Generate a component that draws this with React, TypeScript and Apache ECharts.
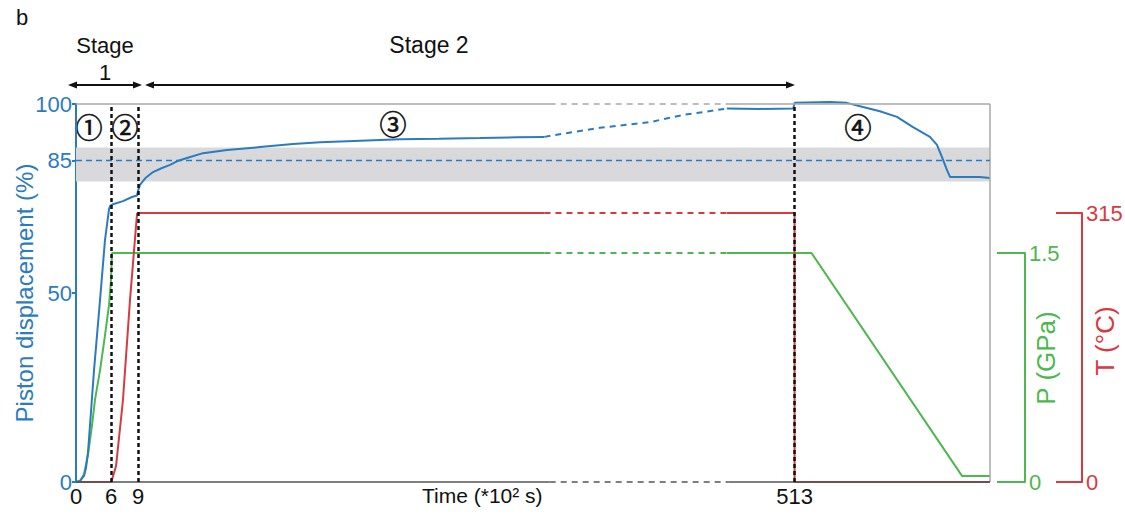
import { useEffect, useRef } from "react";
import * as echarts from "echarts";

// ---- axis mapping: time (×10² s) knots -> display position on the (broken) time axis
const TIME_KNOTS = [0, 6, 9, 663];
const AXIS_KNOTS = [0, 35, 62, 914];
const X_TICKS = [0, 6, 9, 513];
const Y_TICKS = [0, 50, 85, 100];
const STAGE_MARKS = [6, 9, 513];
const BREAK_START = 321;
const BREAK_END = 461;
const FRAME_BREAK = [325, 462];
const END_TIME = 663;
const BAND = [79.5, 88.5];
const TARGET = 85;

// ---- piston displacement (%)
const pistonT = [0, 0.69, 1.37, 1.71, 2.06, 2.4, 3.09, 4.11, 4.97, 5.66, 5.83, 6.22, 7.33, 8.33, 8.89, 9, 10.5, 15, 20.5, 27, 33.6, 40, 46.6, 58.9, 77.3, 102.6, 128, 148.7, 180, 210, 240, 271.5, 300, 321,
  329, 363.6, 402, 427.3, 453.4, 461,
  486, 512, 513, 540, 553, 565.5, 578.5, 591.6, 603.9, 616.9, 622.3, 627, 630, 632.3, 655, 663];
const pistonV = [0, 0.3, 1.6, 3.7, 7.9, 15, 29.6, 48, 64, 72.2, 73.0, 73.5, 74.3, 75.4, 75.8, 77, 78.6, 80.5, 82, 83, 83.9, 85, 85.7, 87, 87.8, 88.6, 89.4, 89.9, 90.3, 90.7, 90.8, 91, 91.2, 91.3,
  91.8, 93.7, 95.2, 97.1, 98.4, 98.8,
  98.7, 98.8, 100.3, 100.5, 100.3, 99.2, 98.1, 96.6, 93.9, 91.3, 89.2, 85.2, 82.5, 80.7, 80.7, 80.4];

// ---- pressure (GPa)
const pressureT = [0, 0.69, 1.37, 2.06, 2.74, 3.26, 4.11, 4.97, 5.66, 6.0, 6.11, 100, 321, 461, 526, 641.5, 663];
const pressureV = [0, 0.007, 0.05, 0.18, 0.37, 0.54, 0.73, 0.96, 1.16, 1.32, 1.5, 1.5, 1.5, 1.5, 1.5, 0.04, 0.04];

// ---- temperature (°C)
const tempT = [0, 6, 6.1, 6.56, 7.33, 8.11, 8.89, 9, 100, 321, 461, 513, 513, 663];
const tempV = [0, 0, 2.3, 18.7, 96, 213, 313.8, 315, 315, 315, 315, 315, 0, 0];

const BLUE = "#2b7bc0";
const GREEN = "#4cb84f";
const RED = "#d83a3f";
const FONT = "Liberation Sans, Arial, sans-serif";
const CIRCLED = "Noto Sans CJK JP, DejaVu Sans, sans-serif";

function toX(t: number): number {
  for (let i = 0; i < TIME_KNOTS.length - 1; i++) {
    const a = TIME_KNOTS[i], b = TIME_KNOTS[i + 1];
    if (t <= b || i === TIME_KNOTS.length - 2) {
      return AXIS_KNOTS[i] + ((t - a) / (b - a)) * (AXIS_KNOTS[i + 1] - AXIS_KNOTS[i]);
    }
  }
  return 0;
}

function pick(ts: number[], vs: number[], a: number, b: number) {
  const out: number[][] = [];
  ts.forEach((t, i) => {
    if (t >= a && t <= b) out.push([toX(t), vs[i]]);
  });
  return out;
}

function segs(name: string, ts: number[], vs: number[], color: string, idx: number, z: number) {
  const base = {
    type: "line" as const,
    name,
    xAxisIndex: idx,
    yAxisIndex: idx,
    showSymbol: false,
    symbol: "none",
    clip: false,
    silent: true,
    z,
  };
  return [
    { ...base, data: pick(ts, vs, -1, BREAK_START), lineStyle: { color, width: 2 } },
    { ...base, data: pick(ts, vs, BREAK_START, BREAK_END), lineStyle: { color, width: 2, type: [6, 5] } },
    { ...base, data: pick(ts, vs, BREAK_END, 1e9), lineStyle: { color, width: 2 } },
  ];
}

function seg(x1: number, y1: number, x2: number, y2: number, style: any) {
  return [
    { coord: [toX(x1), y1], lineStyle: style },
    { coord: [toX(x2), y2] },
  ];
}

function arrow(x1: number, x2: number, y: number) {
  const h = 9, w = 3.6;
  return [
    { type: "line", shape: { x1: x1 + h - 1, y1: y, x2: x2 - h + 1, y2: y }, style: { stroke: "#111", lineWidth: 2 } },
    { type: "polygon", shape: { points: [[x1, y], [x1 + h, y - w], [x1 + h, y + w]] }, style: { fill: "#111" } },
    { type: "polygon", shape: { points: [[x2, y], [x2 - h, y - w], [x2 - h, y + w]] }, style: { fill: "#111" } },
  ];
}

function circled(text: string, x: number, y: number) {
  return {
    type: "text", x, y,
    style: { text, fontSize: 27, fontFamily: CIRCLED, fill: "#111", stroke: "#111", lineWidth: 0.6, align: "center", verticalAlign: "middle" },
  };
}

export default function App() {
  const ref = useRef<HTMLDivElement>(null);
  useEffect(() => {
    document.body.style.margin = "0";
    const chart = echarts.init(ref.current!, undefined, { renderer: "svg" });
    const xMax = toX(END_TIME);
    const grids = [
      { left: 76, right: 135, top: 104, bottom: 35, outerBoundsMode: "none", containLabel: false },
      { left: 76, right: 135, top: 253, bottom: 35, outerBoundsMode: "none", containLabel: false },
      { left: 76, right: 135, top: 213, bottom: 35, outerBoundsMode: "none", containLabel: false },
    ];
    const xAxes = grids.map((_, i) => ({
      type: "value",
      gridIndex: i,
      min: 0,
      max: xMax,
      show: i === 0,
      axisLine: { show: false },
      axisTick: { show: false },
      splitLine: { show: false },
      axisLabel: {
        show: i === 0,
        customValues: X_TICKS.map(toX),
        formatter: (v: number) => {
          const k = X_TICKS.findIndex((t) => Math.abs(toX(t) - v) < 0.01);
          return k >= 0 ? String(X_TICKS[k]) : "";
        },
        color: "#111",
        fontSize: 22,
        fontFamily: FONT,
        margin: 3,
      },
    }));
    const grayFrame = { color: "#a8a8a8", width: 1.5, type: "solid" };
    const grayDash = { color: "#a8a8a8", width: 1.5, type: [6, 5] };
    const axisSolid = { color: "#555", width: 1.5, type: "solid" };
    const axisDash = { color: "#555", width: 1.5, type: [6, 5] };

    const option: any = {
      animation: false,
      grid: grids,
      xAxis: xAxes,
      yAxis: [
        {
          type: "value", gridIndex: 0, min: 0, max: 100, position: "left",
          name: "Piston displacement (%)", nameLocation: "middle", nameGap: 40, nameRotate: 90,
          nameMoveOverlap: false,
          nameTextStyle: { color: BLUE, fontSize: 24, fontFamily: FONT },
          axisLine: { show: true, lineStyle: { color: BLUE, width: 2 } },
          axisTick: { show: true, customValues: Y_TICKS, length: 4, lineStyle: { color: BLUE, width: 2 } },
          axisLabel: { customValues: Y_TICKS, color: BLUE, fontSize: 22, fontFamily: FONT, margin: 4 },
          splitLine: { show: false },
        },
        {
          type: "value", gridIndex: 1, min: 0, max: 1.5, interval: 1.5, position: "right", offset: 35,
          axisLine: { show: true, onZero: false, lineStyle: { color: GREEN, width: 2 } },
          axisTick: { show: true, inside: true, length: 28, lineStyle: { color: GREEN, width: 2 } },
          axisLabel: { color: GREEN, fontSize: 22, fontFamily: FONT, margin: 4 },
          splitLine: { show: false },
        },
        {
          type: "value", gridIndex: 2, min: 0, max: 315, interval: 315, position: "right", offset: 92,
          axisLine: { show: true, onZero: false, lineStyle: { color: RED, width: 2 } },
          axisTick: { show: true, inside: true, length: 26, lineStyle: { color: RED, width: 2 } },
          axisLabel: { color: RED, fontSize: 22, fontFamily: FONT, margin: 4 },
          splitLine: { show: false },
        },
      ],
      series: [
        {
          type: "line", name: "band", xAxisIndex: 0, yAxisIndex: 0, data: [], silent: true, z: 1,
          markArea: {
            silent: true,
            itemStyle: { color: "#d9d9db" },
            data: [[{ yAxis: BAND[0] }, { yAxis: BAND[1] }]],
          },
          markLine: {
            silent: true, symbol: ["none", "none"], label: { show: false },
            data: [
              seg(0, 100, FRAME_BREAK[0], 100, grayFrame),
              seg(FRAME_BREAK[0], 100, FRAME_BREAK[1], 100, grayDash),
              seg(FRAME_BREAK[1], 100, END_TIME, 100, grayFrame),
              seg(END_TIME, 0, END_TIME, 100, grayFrame),
              seg(0, 0, FRAME_BREAK[0], 0, axisSolid),
              seg(FRAME_BREAK[0], 0, FRAME_BREAK[1], 0, axisDash),
              seg(FRAME_BREAK[1], 0, END_TIME, 0, axisSolid),
              { yAxis: TARGET, lineStyle: { color: BLUE, width: 1.3, type: [6, 4] } },
            ],
          },
        },
        ...segs("Pressure", pressureT, pressureV, GREEN, 1, 3),
        ...segs("Temperature", tempT, tempV, RED, 2, 3),
        ...segs("Piston displacement", pistonT, pistonV, BLUE, 0, 4),
        {
          type: "line", name: "stages", xAxisIndex: 0, yAxisIndex: 0, data: [], silent: true, z: 6,
          markLine: {
            silent: true, symbol: ["none", "none"], label: { show: false },
            lineStyle: { color: "#111", width: 2.5, type: [4, 3] },
            data: STAGE_MARKS.map((t) => ({ xAxis: toX(t) })),
          },
        },
      ],
      graphic: [
        { type: "text", left: 16, top: 6, style: { text: "b", fontSize: 22, fontFamily: FONT, fill: "#111" } },
        { type: "text", x: 105, y: 45, style: { text: "Stage", fontSize: 22, fontFamily: FONT, fill: "#111", align: "center", verticalAlign: "middle" } },
        { type: "text", x: 105, y: 72, style: { text: "1", fontSize: 22, fontFamily: FONT, fill: "#111", align: "center", verticalAlign: "middle" } },
        { type: "text", x: 429, y: 45, style: { text: "Stage 2", fontSize: 23, fontFamily: FONT, fill: "#111", align: "center", verticalAlign: "middle" } },
        ...arrow(68, 142, 85),
        ...arrow(145, 795, 85),
        circled("①", 89, 126),
        circled("②", 125, 126),
        circled("③", 393, 123),
        circled("④", 858, 126),
        { type: "text", x: 422, y: 495, style: { text: "Time (*10² s)", fontSize: 21, fontFamily: FONT, fill: "#111", align: "left", verticalAlign: "middle" } },
        { type: "text", x: 1046, y: 358, rotation: Math.PI / 2, style: { text: "P (GPa)", fontSize: 26, fontFamily: FONT, fill: GREEN, align: "center", verticalAlign: "middle" } },
        { type: "text", x: 1105, y: 341, rotation: Math.PI / 2, style: { text: "T (°C)", fontSize: 26, fontFamily: FONT, fill: RED, align: "center", verticalAlign: "middle" } },
      ],
    };
    chart.setOption(option);
    return () => chart.dispose();
  }, []);
  return <div ref={ref} style={{ width: 1125, height: 517 }} />;
}
